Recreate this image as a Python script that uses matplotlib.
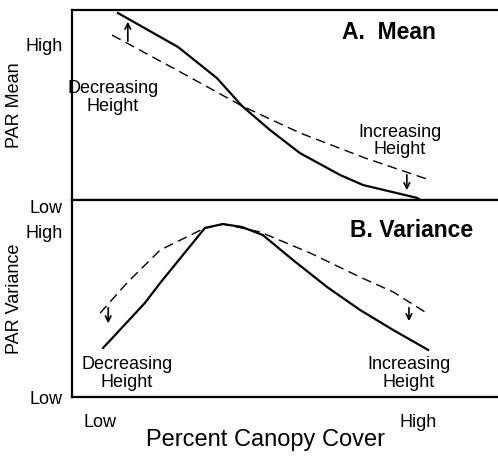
import matplotlib.pyplot as plt

plt.rcParams['font.family'] = ['Liberation Sans', 'DejaVu Sans']

# Panel A: PAR mean vs percent canopy cover
mean_solid_x = [10.8, 24.9, 34.0, 39.9, 46.5, 53.5, 62.9, 68.3, 81.0, 81.7]
mean_solid_y = [98.4, 80.5, 64.2, 49.5, 36.8, 24.7, 13.2, 7.9, 1.1, 0.0]
mean_dash_x = [9.4, 24.6, 39.9, 53.5, 68.8, 84.0]
mean_dash_y = [86.8, 68.4, 49.5, 35.3, 22.1, 10.5]

# Panel B: PAR variance vs percent canopy cover
var_solid_x = [7.3, 17.1, 20.7, 31.2, 35.4, 39.9, 44.8, 51.9, 59.9, 67.6, 75.4, 83.6]
var_solid_y = [24.9, 47.7, 57.9, 85.8, 87.8, 86.3, 82.2, 69.5, 55.8, 44.2, 34.0, 23.9]
var_dash_x = [6.6, 12.9, 20.7, 31.2, 35.4, 44.1, 55.9, 67.6, 75.4, 82.9]
var_dash_y = [42.6, 57.9, 74.6, 85.8, 87.8, 83.8, 73.1, 60.9, 53.3, 43.1]

# arrows: (x, y_from, y_to)
mean_arrows = [(13.1, 82.1, 95.3), (78.6, 14.7, 3.7)]
var_arrows = [(8.5, 46.7, 36.0), (79.1, 46.7, 37.1)]

x_ticks = [6.6, 81.2]
x_ticklabels = ['Low', 'High']

fig = plt.figure(figsize=(4.98, 4.57), dpi=100)
ax1 = fig.add_axes([72/498, 257/457, 426/498, 190/457])
ax2 = fig.add_axes([72/498, 60/457, 426/498, 197/457])

for ax in (ax1, ax2):
    ax.set_xlim(0, 100)
    ax.set_ylim(0, 100)
    ax.spines['right'].set_visible(False)
    for s in ('left', 'top', 'bottom'):
        ax.spines[s].set_linewidth(1.6)
    ax.tick_params(length=0, labelsize=13, pad=6.5)

# top panel
ax1.plot(mean_solid_x, mean_solid_y, color='black', lw=1.6)
ax1.plot(mean_dash_x, mean_dash_y, color='black', lw=1.0, dashes=(7, 4))
for x, y0, y1 in mean_arrows:
    ax1.annotate('', xy=(x, y1), xytext=(x, y0),
                 arrowprops=dict(arrowstyle='->', color='black', lw=1.2))
ax1.set_xticks([])
ax1.set_yticks([0, 82])
ax1.set_yticklabels(['Low', 'High'])
ax1.get_yticklabels()[0].set_va('top')
ax1.set_ylabel('PAR Mean', fontsize=13)
ax1.yaxis.set_label_coords(-0.115, 0.5)
ax1.text(74.3, 88, 'A.  Mean', fontsize=16.5, fontweight='bold', ha='center', va='center')
ax1.text(9.6, 54, 'Decreasing\nHeight', fontsize=13, ha='center', va='center', linespacing=1.05)
ax1.text(77.0, 31, 'Increasing\nHeight', fontsize=13, ha='center', va='center', linespacing=1.05)

# bottom panel
ax2.plot(var_solid_x, var_solid_y, color='black', lw=1.6)
ax2.plot(var_dash_x, var_dash_y, color='black', lw=1.0, dashes=(7, 4))
for x, y0, y1 in var_arrows:
    ax2.annotate('', xy=(x, y1), xytext=(x, y0),
                 arrowprops=dict(arrowstyle='->', color='black', lw=1.2))
ax2.set_yticks([0, 84])
ax2.set_yticklabels(['Low', 'High'])
ax2.set_xticks(x_ticks)
ax2.set_xticklabels(x_ticklabels)
ax2.tick_params(axis='x', pad=12)
ax2.set_ylabel('PAR Variance', fontsize=13)
ax2.yaxis.set_label_coords(-0.115, 0.5)
ax2.set_xlabel('Percent Canopy Cover', fontsize=17)
ax2.xaxis.set_label_coords(0.455, -0.16)
ax2.text(79.6, 84.5, 'B. Variance', fontsize=16.5, fontweight='bold', ha='center', va='center')
ax2.text(12.9, 12, 'Decreasing\nHeight', fontsize=13, ha='center', va='center', linespacing=1.05)
ax2.text(79.1, 12, 'Increasing\nHeight', fontsize=13, ha='center', va='center', linespacing=1.05)

fig.savefig('out.png', dpi=100)
